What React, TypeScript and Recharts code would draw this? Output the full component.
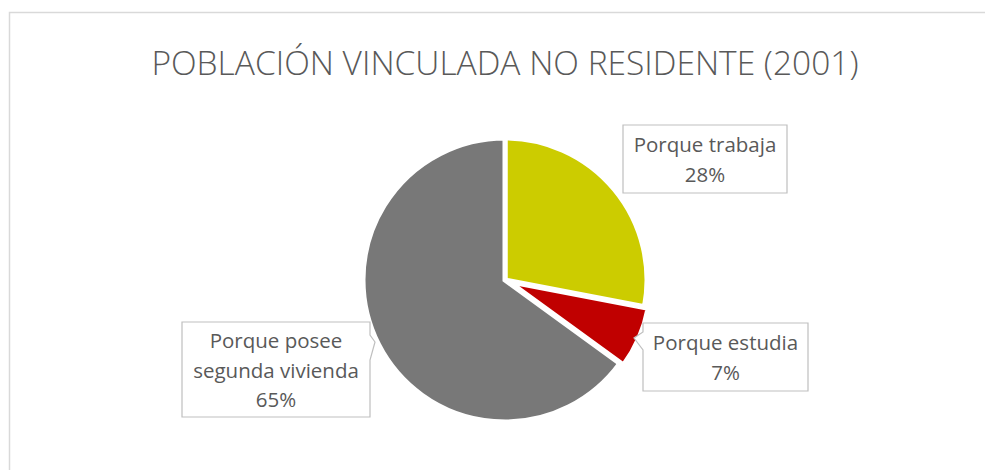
import { PieChart, Pie, Cell } from 'recharts'

const categories = ['Porque trabaja', 'Porque estudia', 'Porque posee segunda vivienda']
const labelLines = [['Porque trabaja'], ['Porque estudia'], ['Porque posee', 'segunda vivienda']]
const shares = [28, 7, 65]
const colors = ['#CCCC00', '#C00000', '#787878']
const explodedIndex = 1

const data = categories.map((name, i) => ({ name, value: shares[i] }))

const CX = 505
const CY = 280
const R = 142
const FONT = '"Open Sans", "Liberation Sans", sans-serif'

// callout boxes, relative to the pie centre
const boxes = [
  { x: 118, y: -155, w: 164, h: 68, tip: null },
  { x: 138, y: 43, w: 165, h: 68, tip: { side: 'left', x: 129, y: 58, y1: 52, y2: 70 } },
  { x: -323, y: 42, w: 188, h: 95, tip: { side: 'right', x: -130, y: 62, y1: 55, y2: 80 } },
]

function boxPath(b: any, cx: number, cy: number) {
  const l = cx + b.x
  const t = cy + b.y
  const r = l + b.w
  const bt = t + b.h
  if (!b.tip) return `M${l},${t}H${r}V${bt}H${l}Z`
  const tx = cx + b.tip.x
  const ty = cy + b.tip.y
  const y1 = cy + b.tip.y1
  const y2 = cy + b.tip.y2
  if (b.tip.side === 'left') {
    return `M${l},${t}H${r}V${bt}H${l}V${y2}L${tx},${ty}L${l},${y1}Z`
  }
  return `M${l},${t}H${r}V${y1}L${tx},${ty}L${r},${y2}V${bt}H${l}Z`
}

const renderLabel = (props: any) => {
  const { index, percent } = props
  const b = boxes[index]
  const lines = [...labelLines[index], `${Math.round(percent * 100)}%`]
  const midX = CX + b.x + b.w / 2
  const lh = 29.5
  const top = CY + b.y + b.h / 2 - ((lines.length - 1) * lh) / 2
  return (
    <g key={`lbl-${index}`}>
      <path d={boxPath(b, CX, CY)} fill="#fff" stroke="#BFBFBF" strokeWidth={1.2} />
      {lines.map((ln, j) => (
        <text
          key={j}
          x={midX}
          y={top + j * lh}
          textAnchor="middle"
          dominantBaseline="central"
          fill="#595959"
          fontSize={20.5}
          fontFamily={FONT}
        >
          {ln}
        </text>
      ))}
    </g>
  )
}

export default function App() {
  const total = shares.reduce((a, b) => a + b, 0)
  const before = shares.slice(0, explodedIndex).reduce((a, b) => a + b, 0)
  const mid = 90 - ((before + shares[explodedIndex] / 2) / total) * 360
  const off = 4
  const ex = off * Math.cos((mid * Math.PI) / 180)
  const ey = -off * Math.sin((mid * Math.PI) / 180)

  return (
    <div style={{ position: 'relative', width: 985, height: 470, background: '#fff' }}>
      <style>{`body{margin:0}`}</style>
      <svg width={985} height={470} style={{ position: 'absolute', left: 0, top: 0 }}>
        <path d="M9.5,470V12.5H990" fill="none" stroke="#D9D9D9" strokeWidth={1.5} />
        <text
          x={505}
          y={62}
          textAnchor="middle"
          dominantBaseline="central"
          fill="#595959"
          fontSize={33.5}
          fontWeight={300}
          fontFamily={FONT}
        >
          POBLACIÓN VINCULADA NO RESIDENTE (2001)
        </text>
      </svg>
      <div style={{ position: 'absolute', left: 0, top: 0 }}>
        <PieChart width={985} height={470} margin={{ top: 0, right: 0, bottom: 0, left: 0 }}>
          <Pie
            data={data}
            dataKey="value"
            nameKey="name"
            cx={CX}
            cy={CY}
            outerRadius={R}
            startAngle={90}
            endAngle={-270}
            stroke="#fff"
            strokeWidth={5}
            label={renderLabel}
            labelLine={false}
            isAnimationActive={false}
          >
            {data.map((d, i) => (
              <Cell
                key={d.name}
                fill={i === explodedIndex ? 'none' : colors[i]}
                stroke={i === explodedIndex ? 'none' : '#fff'}
              />
            ))}
          </Pie>
          <Pie
            data={data}
            dataKey="value"
            nameKey="name"
            cx={CX + ex}
            cy={CY + ey}
            outerRadius={R}
            startAngle={90}
            endAngle={-270}
            stroke="#fff"
            strokeWidth={5}
            labelLine={false}
            isAnimationActive={false}
          >
            {data.map((d, i) => (
              <Cell
                key={d.name}
                fill={i === explodedIndex ? colors[i] : 'none'}
                stroke={i === explodedIndex ? '#fff' : 'none'}
              />
            ))}
          </Pie>
        </PieChart>
      </div>
    </div>
  )
}
